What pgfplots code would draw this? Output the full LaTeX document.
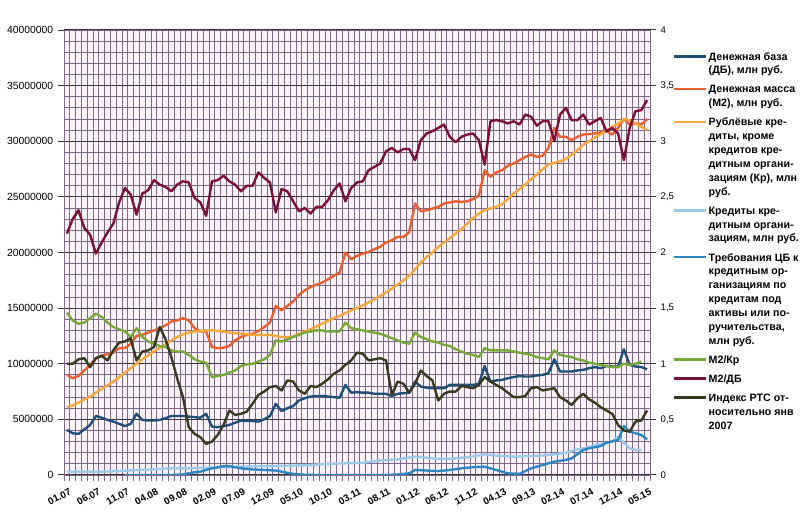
\documentclass[border=0pt]{standalone}
\usepackage{fontspec}
\setmainfont{Liberation Sans}
\usepackage{pgfplots}
\pgfplotsset{compat=1.18}

\definecolor{cDB}{RGB}{31,78,121}
\definecolor{cM2}{RGB}{232,96,48}
\definecolor{cKr}{RGB}{247,168,60}
\definecolor{cKK}{RGB}{156,200,234}
\definecolor{cCB}{RGB}{46,134,193}
\definecolor{cM2Kr}{RGB}{118,168,58}
\definecolor{cM2DB}{RGB}{122,16,56}
\definecolor{cRTS}{RGB}{55,58,30}
\definecolor{bgpink}{RGB}{253,243,250}
\definecolor{gridc}{RGB}{125,105,135}
\definecolor{gridmaj}{RGB}{60,50,60}

\pgfplotsset{
  base/.style={
    scale only axis, width=439.5pt, height=333.75pt,
    at={(0pt,0pt)}, anchor=south west,
    xmin=-0.5, xmax=100.5,
    tick align=outside,
    major tick length=4.5pt, minor tick length=4.5pt,
    /pgf/number format/assume math mode=true,
  },
  ser/.style={line width=1.8pt, line join=round},
}

\begin{document}
\begin{tikzpicture}
\useasboundingbox (-48pt,-34.5pt) rectangle (555pt,356.25pt);

% left axis, values in mln rub (x10^6 on the tick labels)
\begin{axis}[base,
  axis background/.style={fill=bgpink},
  axis line style={gridc},
  ymin=0, ymax=40,
  ytick={0,5,...,40},
  yticklabels={0,5000000,10000000,15000000,20000000,25000000,30000000,35000000,40000000},
  minor y tick num=4,
  ymajorgrids, yminorgrids,
  major y grid style={gridmaj, line width=0.9pt},
  minor y grid style={gridc, line width=0.6pt},
  minor y tick style={draw=none},
  major y tick style={gridmaj, line width=0.75pt},
  ytick pos=left,
  yticklabel style={font=\fontsize{7.8}{9}\selectfont},
  xtick={0,5,...,100},
  xticklabels={01.07,06.07,11.07,04.08,09.08,02.09,07.09,12.09,05.10,10.10,03.11,08.11,01.12,06.12,11.12,04.13,09.13,02.14,07.14,12.14,05.15},
  minor xtick={-0.5,0.5,...,100.5},
  xminorgrids,
  minor x grid style={gridc, line width=0.7pt},
  major x tick style={draw=none},
  minor x tick style={gridc, line width=0.7pt},
  xtick pos=bottom,
  xticklabel style={font=\fontsize{7.4}{8}\selectfont\bfseries, rotate=28, anchor=north east, inner sep=1pt, yshift=-4pt},
]
% Денежная база
\addplot[ser, cDB] coordinates {
(0,4.05)(1,3.75)(2,3.7)(3,4.1)(4,4.5)(5,5.3)(6,5.15)(7,4.95)(8,4.8)(9,4.6)(10,4.4)(11,4.6)(12,5.5)(13,4.95)(14,4.9)(15,4.9)(16,4.95)(17,5.1)(18,5.3)(19,5.3)(20,5.3)(21,5.25)(22,5.2)(23,5.15)(24,5.5)(25,4.35)(26,4.3)(27,4.4)(28,4.5)(29,4.7)(30,4.9)(31,4.85)(32,4.85)(33,4.8)(34,5.0)(35,5.3)(36,6.4)(37,5.75)(38,6.0)(39,6.2)(40,6.7)(41,6.9)(42,7.05)(43,7.1)(44,7.1)(45,7.05)(46,7.0)(47,6.95)(48,8.1)(49,7.4)(50,7.45)(51,7.4)(52,7.4)(53,7.3)(54,7.3)(55,7.3)(56,7.1)(57,7.3)(58,7.35)(59,7.4)(60,8.4)(61,7.95)(62,7.85)(63,7.8)(64,7.8)(65,7.8)(66,8.1)(67,8.1)(68,8.1)(69,8.1)(70,8.1)(71,8.2)(72,9.8)(73,8.4)(74,8.5)(75,8.55)(76,8.7)(77,8.8)(78,8.9)(79,8.85)(80,8.85)(81,8.95)(82,9.0)(83,9.15)(84,10.4)(85,9.3)(86,9.3)(87,9.3)(88,9.4)(89,9.45)(90,9.6)(91,9.7)(92,9.6)(93,9.8)(94,9.75)(95,9.75)(96,11.3)(97,9.9)(98,9.75)(99,9.7)(100,9.5)
};
% Денежная масса (M2)
\addplot[ser, cM2] coordinates {
(0,9.0)(1,8.7)(2,8.9)(3,9.4)(4,9.9)(5,10.5)(6,10.75)(7,10.85)(8,11.0)(9,11.4)(10,11.4)(11,11.8)(12,12.5)(13,12.6)(14,12.8)(15,13.0)(16,13.2)(17,13.45)(18,13.8)(19,13.9)(20,14.1)(21,13.9)(22,13.2)(23,12.9)(24,12.9)(25,11.5)(26,11.4)(27,11.45)(28,11.6)(29,12.1)(30,12.4)(31,12.6)(32,12.7)(33,12.95)(34,13.3)(35,13.7)(36,15.2)(37,14.8)(38,15.2)(39,15.6)(40,16.2)(41,16.6)(42,16.9)(43,17.1)(44,17.3)(45,17.6)(46,17.9)(47,18.2)(48,20.0)(49,19.4)(50,19.7)(51,19.9)(52,20.05)(53,20.3)(54,20.5)(55,20.9)(56,21.1)(57,21.4)(58,21.4)(59,21.8)(60,24.4)(61,23.7)(62,23.8)(63,23.95)(64,24.1)(65,24.4)(66,24.5)(67,24.6)(68,24.55)(69,24.6)(70,24.8)(71,25.1)(72,27.4)(73,26.8)(74,27.2)(75,27.4)(76,27.8)(77,28.0)(78,28.3)(79,28.6)(80,28.8)(81,28.6)(82,28.7)(83,29.4)(84,31.2)(85,30.4)(86,30.4)(87,30.1)(88,30.4)(89,30.6)(90,30.65)(91,30.7)(92,30.8)(93,30.9)(94,30.6)(95,31.2)(96,32.0)(97,31.5)(98,31.6)(99,31.5)(100,32.0)
};
% Рублёвые кредиты (Кр)
\addplot[ser, cKr] coordinates {
(0,6.1)(1,6.25)(2,6.5)(3,6.8)(4,7.05)(5,7.4)(6,7.75)(7,8.05)(8,8.4)(9,8.8)(10,9.2)(11,9.6)(12,10.0)(13,10.4)(14,10.75)(15,11.1)(16,11.45)(17,11.75)(18,12.1)(19,12.4)(20,12.65)(21,12.8)(22,12.9)(23,12.95)(24,13.0)(25,13.0)(26,12.95)(27,12.9)(28,12.8)(29,12.75)(30,12.7)(31,12.65)(32,12.6)(33,12.6)(34,12.6)(35,12.6)(36,12.5)(37,12.4)(38,12.4)(39,12.45)(40,12.7)(41,12.9)(42,13.1)(43,13.35)(44,13.6)(45,13.85)(46,14.1)(47,14.3)(48,14.55)(49,14.8)(50,15.0)(51,15.25)(52,15.5)(53,15.8)(54,16.1)(55,16.4)(56,16.75)(57,17.1)(58,17.5)(59,17.9)(60,18.5)(61,19.1)(62,19.6)(63,20.0)(64,20.5)(65,20.9)(66,21.3)(67,21.7)(68,22.1)(69,22.6)(70,23.1)(71,23.5)(72,23.8)(73,23.95)(74,24.1)(75,24.35)(76,24.8)(77,25.3)(78,25.7)(79,26.1)(80,26.6)(81,27.0)(82,27.5)(83,27.9)(84,28.05)(85,28.2)(86,28.4)(87,28.8)(88,29.2)(89,29.7)(90,30.0)(91,30.35)(92,30.65)(93,30.95)(94,31.3)(95,31.6)(96,32.0)(97,31.9)(98,31.6)(99,31.3)(100,31.0)
};
% Кредиты кредитным организациям
\addplot[ser, cKK] coordinates {
(0,0.3)(3,0.3)(6,0.3)(9,0.35)(12,0.45)(15,0.5)(18,0.6)(21,0.6)(24,0.65)(27,0.7)(30,0.75)(33,0.8)(36,0.8)(39,0.85)(42,0.9)(45,1.0)(48,1.05)(51,1.1)(54,1.3)(57,1.4)(60,1.65)(62,1.55)(64,1.45)(66,1.45)(69,1.6)(72,1.85)(74,1.75)(77,1.65)(80,1.7)(82,1.75)(84,1.85)(86,2.0)(88,2.3)(90,2.5)(92,2.8)(94,3.0)(95,3.45)(96,2.9)(97,2.4)(98,2.25)(99,2.25)
};
% Требования ЦБ к кредитным организациям
\addplot[ser, cCB] coordinates {
(10,0.0)(14,0.0)(18,0.0)(20,0.05)(22,0.25)(23,0.3)(25,0.6)(27,0.8)(28,0.8)(30,0.6)(32,0.5)(34,0.45)(36,0.4)(38,0.2)(39,0.1)(41,0.02)(43,0.0)(45,0.0)(50,0.0)(55,0.0)(57,0.05)(59,0.15)(60,0.45)(62,0.4)(64,0.35)(65,0.4)(66,0.45)(68,0.6)(70,0.7)(72,0.75)(74,0.45)(76,0.15)(78,0.1)(80,0.6)(82,0.9)(84,1.2)(86,1.35)(87,1.5)(89,2.25)(90,2.4)(92,2.6)(93,2.9)(95,3.15)(96,4.4)(97,3.9)(99,3.6)(100,3.2)
};
\end{axis}

% right axis: ratios
\begin{axis}[base,
  ymin=0, ymax=4,
  axis x line=none,
  axis y line*=right,
  axis line style={gridc},
  ytick={0,0.5,...,4},
  /pgf/number format/use comma,
  major y tick style={gridmaj, line width=0.75pt},
  yticklabel style={font=\fontsize{7.2}{9}\selectfont},
  legend image code/.code={\path (0pt,0pt); \draw[#1, line width=1.8pt] (0pt,-4.5pt) -- (24pt,-4.5pt);},
  legend style={at={(1.0392,0.957)}, anchor=north west, draw=none, fill=none,
    inner sep=0pt, outer sep=0pt, row sep=4.6pt,
    font=\fontsize{8}{10.4}\selectfont\bfseries,
    nodes={inner xsep=1pt, inner ysep=0pt},
    cells={anchor=north west, align=left}},
]
\addlegendimage{ser, cDB}
\addlegendimage{ser, cM2}
\addlegendimage{ser, cKr}
\addlegendimage{ser, cKK}
\addlegendimage{ser, cCB}
% M2/Кр
\addplot[ser, cM2Kr] coordinates {
(0,1.46)(1,1.39)(2,1.36)(3,1.37)(4,1.41)(5,1.45)(6,1.42)(7,1.37)(8,1.33)(9,1.31)(10,1.29)(11,1.24)(12,1.32)(13,1.24)(14,1.2)(15,1.18)(16,1.16)(17,1.15)(18,1.12)(19,1.11)(20,1.11)(21,1.08)(22,1.04)(23,1.02)(24,1.01)(25,0.88)(26,0.89)(27,0.90)(28,0.92)(29,0.94)(30,0.98)(31,0.995)(32,1.00)(33,1.02)(34,1.04)(35,1.08)(36,1.21)(37,1.20)(38,1.22)(39,1.24)(40,1.26)(41,1.28)(42,1.29)(43,1.30)(44,1.30)(45,1.29)(46,1.29)(47,1.29)(48,1.37)(49,1.32)(50,1.31)(51,1.30)(52,1.29)(53,1.28)(54,1.27)(55,1.25)(56,1.23)(57,1.21)(58,1.19)(59,1.18)(60,1.28)(61,1.24)(62,1.22)(63,1.20)(64,1.19)(65,1.17)(66,1.16)(67,1.13)(68,1.11)(69,1.09)(70,1.08)(71,1.06)(72,1.14)(73,1.12)(74,1.12)(75,1.12)(76,1.12)(77,1.11)(78,1.10)(79,1.09)(80,1.08)(81,1.06)(82,1.05)(83,1.04)(84,1.12)(85,1.08)(86,1.07)(87,1.06)(88,1.04)(89,1.03)(90,1.01)(91,1.00)(92,0.99)(93,0.98)(94,0.97)(95,0.97)(96,1.00)(97,0.99)(98,1.00)(99,1.02)
};
% M2/ДБ
\addplot[ser, cM2DB] coordinates {
(0,2.17)(1,2.30)(2,2.38)(3,2.22)(4,2.16)(5,1.99)(6,2.09)(7,2.18)(8,2.26)(9,2.45)(10,2.58)(11,2.52)(12,2.34)(13,2.53)(14,2.56)(15,2.65)(16,2.61)(17,2.59)(18,2.55)(19,2.61)(20,2.64)(21,2.63)(22,2.49)(23,2.45)(24,2.33)(25,2.64)(26,2.65)(27,2.69)(28,2.64)(29,2.61)(30,2.55)(31,2.60)(32,2.60)(33,2.72)(34,2.67)(35,2.63)(36,2.36)(37,2.57)(38,2.55)(39,2.46)(40,2.37)(41,2.40)(42,2.35)(43,2.41)(44,2.41)(45,2.47)(46,2.56)(47,2.62)(48,2.46)(49,2.58)(50,2.63)(51,2.64)(52,2.74)(53,2.77)(54,2.80)(55,2.91)(56,2.94)(57,2.90)(58,2.93)(59,2.93)(60,2.83)(61,3.01)(62,3.07)(63,3.09)(64,3.12)(65,3.15)(66,3.04)(67,2.99)(68,3.04)(69,3.06)(70,3.07)(71,3.01)(72,2.79)(73,3.18)(74,3.19)(75,3.18)(76,3.16)(77,3.18)(78,3.15)(79,3.24)(80,3.22)(81,3.14)(82,3.18)(83,3.18)(84,3.00)(85,3.24)(86,3.30)(87,3.19)(88,3.19)(89,3.24)(90,3.15)(91,3.18)(92,3.21)(93,3.09)(94,3.12)(95,3.07)(96,2.83)(97,3.12)(98,3.27)(99,3.28)(100,3.37)
};
% Индекс РТС относительно янв 2007
\addplot[ser, cRTS] coordinates {
(0,1.00)(1,1.00)(2,1.04)(3,1.05)(4,0.97)(5,1.05)(6,1.07)(7,1.03)(8,1.12)(9,1.19)(10,1.20)(11,1.23)(12,1.03)(13,1.11)(14,1.12)(15,1.15)(16,1.33)(17,1.22)(18,1.06)(19,0.87)(20,0.70)(21,0.43)(22,0.37)(23,0.34)(24,0.28)(25,0.30)(26,0.36)(27,0.45)(28,0.58)(29,0.54)(30,0.55)(31,0.57)(32,0.64)(33,0.72)(34,0.75)(35,0.79)(36,0.80)(37,0.76)(38,0.85)(39,0.84)(40,0.76)(41,0.73)(42,0.80)(43,0.79)(44,0.82)(45,0.86)(46,0.91)(47,0.94)(48,0.99)(49,1.03)(50,1.10)(51,1.09)(52,1.03)(53,1.04)(54,1.05)(55,1.03)(56,0.72)(57,0.84)(58,0.82)(59,0.74)(60,0.82)(61,0.94)(62,0.89)(63,0.85)(64,0.67)(65,0.73)(66,0.75)(67,0.75)(68,0.80)(69,0.79)(70,0.78)(71,0.81)(72,0.88)(73,0.84)(74,0.81)(75,0.78)(76,0.74)(77,0.70)(78,0.70)(79,0.71)(80,0.78)(81,0.79)(82,0.76)(83,0.77)(84,0.78)(85,0.70)(86,0.67)(87,0.63)(88,0.69)(89,0.73)(90,0.68)(91,0.65)(92,0.61)(93,0.58)(94,0.55)(95,0.45)(96,0.40)(97,0.39)(98,0.48)(99,0.49)(100,0.58)
};
\legend{
  {\strut Денежная база\\(ДБ), млн руб.\strut},
  {\strut Денежная масса\\(M2), млн руб.\strut},
  {\strut Рублёвые кре-\\диты, кроме\\кредитов кре-\\дитным органи-\\зациям (Кр), млн\\руб.\strut},
  {\strut Кредиты кре-\\дитным органи-\\зациям, млн руб.\strut},
  {\strut Требования ЦБ к\\кредитным ор-\\ганизациям по\\кредитам под\\активы или по-\\ручительства,\\млн руб.\strut},
  {\strut М2/Кр\strut},
  {\strut М2/ДБ\strut},
  {\strut Индекс РТС от-\\носительно янв\\2007\strut}
}
\end{axis}
\end{tikzpicture}
\end{document}
